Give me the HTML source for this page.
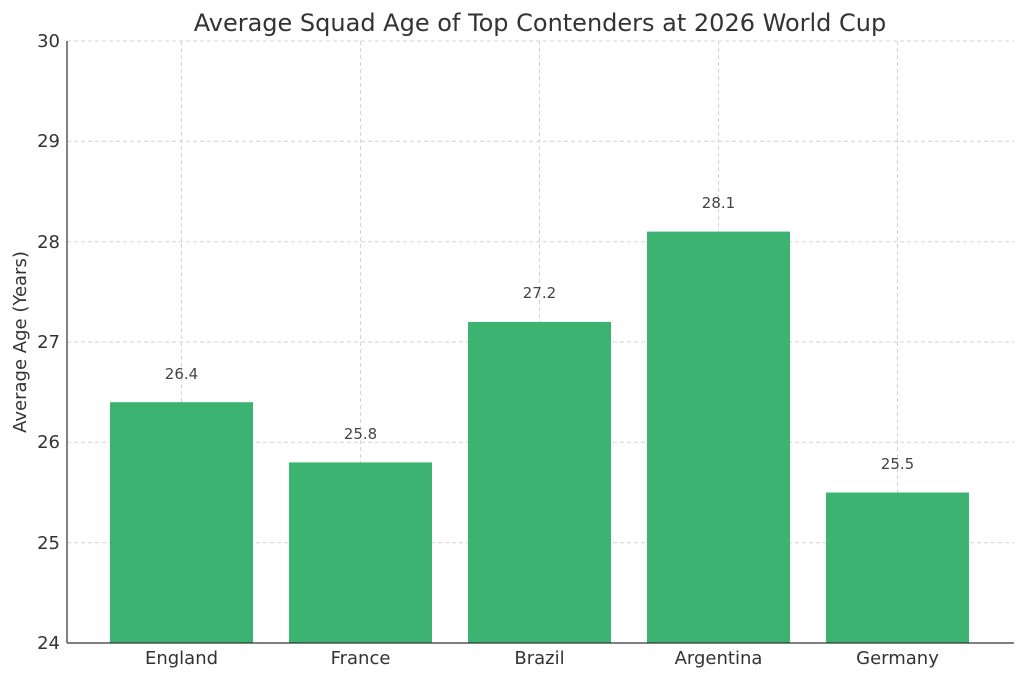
<!DOCTYPE html>
<html><head><meta charset="utf-8"><style>body{margin:0;background:#fff}svg{display:block}</style></head><body>
<svg width="1024" height="679" xmlns="http://www.w3.org/2000/svg" font-family="'DejaVu Sans','Liberation Sans',sans-serif">
<rect width="1024" height="679" fill="#fff"/>
<g stroke="#d3d3d3" stroke-width="1" stroke-dasharray="4,3">
<line x1="67" x2="1014" y1="41" y2="41"/><line x1="67" x2="1014" y1="141.3" y2="141.3"/><line x1="67" x2="1014" y1="241.7" y2="241.7"/><line x1="67" x2="1014" y1="342" y2="342"/><line x1="67" x2="1014" y1="442.3" y2="442.3"/><line x1="67" x2="1014" y1="542.7" y2="542.7"/>
<line y1="41" y2="643" x1="181.5" x2="181.5"/><line y1="41" y2="643" x1="360.5" x2="360.5"/><line y1="41" y2="643" x1="539.5" x2="539.5"/><line y1="41" y2="643" x1="718.5" x2="718.5"/><line y1="41" y2="643" x1="897.5" x2="897.5"/>
</g>
<g fill="#3cb371">
<rect x="110" y="402.2" width="143" height="240.8"/>
<rect x="289" y="462.4" width="143" height="180.6"/>
<rect x="468" y="321.9" width="143" height="321.1"/>
<rect x="647" y="231.6" width="143" height="411.4"/>
<rect x="826" y="492.5" width="143" height="150.5"/>
</g>
<g font-size="15" fill="#444" text-anchor="middle">
<text x="181.5" y="379">26.4</text><text x="360.5" y="439">25.8</text><text x="539.5" y="298">27.2</text><text x="718.5" y="208">28.1</text><text x="897.5" y="469">25.5</text>
</g>
<line x1="67" x2="67" y1="41" y2="643" stroke="#333" stroke-width="1.2"/>
<line x1="67" x2="1014" y1="643" y2="643" stroke="#333" stroke-width="1.2"/>
<g font-size="18" fill="#333" text-anchor="end">
<text x="60" y="47">30</text><text x="60" y="147">29</text><text x="60" y="248">28</text><text x="60" y="348">27</text><text x="60" y="448">26</text><text x="60" y="549">25</text><text x="60" y="649">24</text>
</g>
<g font-size="18" fill="#333" text-anchor="middle">
<text x="181.5" y="664">England</text><text x="360.5" y="664">France</text><text x="539.5" y="664">Brazil</text><text x="718.5" y="664">Argentina</text><text x="897.5" y="664">Germany</text>
</g>
<text transform="translate(26,342) rotate(-90)" font-size="18" fill="#333" text-anchor="middle">Average Age (Years)</text>
<text x="540" y="31" font-size="24" fill="#333" text-anchor="middle">Average Squad Age of Top Contenders at 2026 World Cup</text>
</svg>
</body></html>
